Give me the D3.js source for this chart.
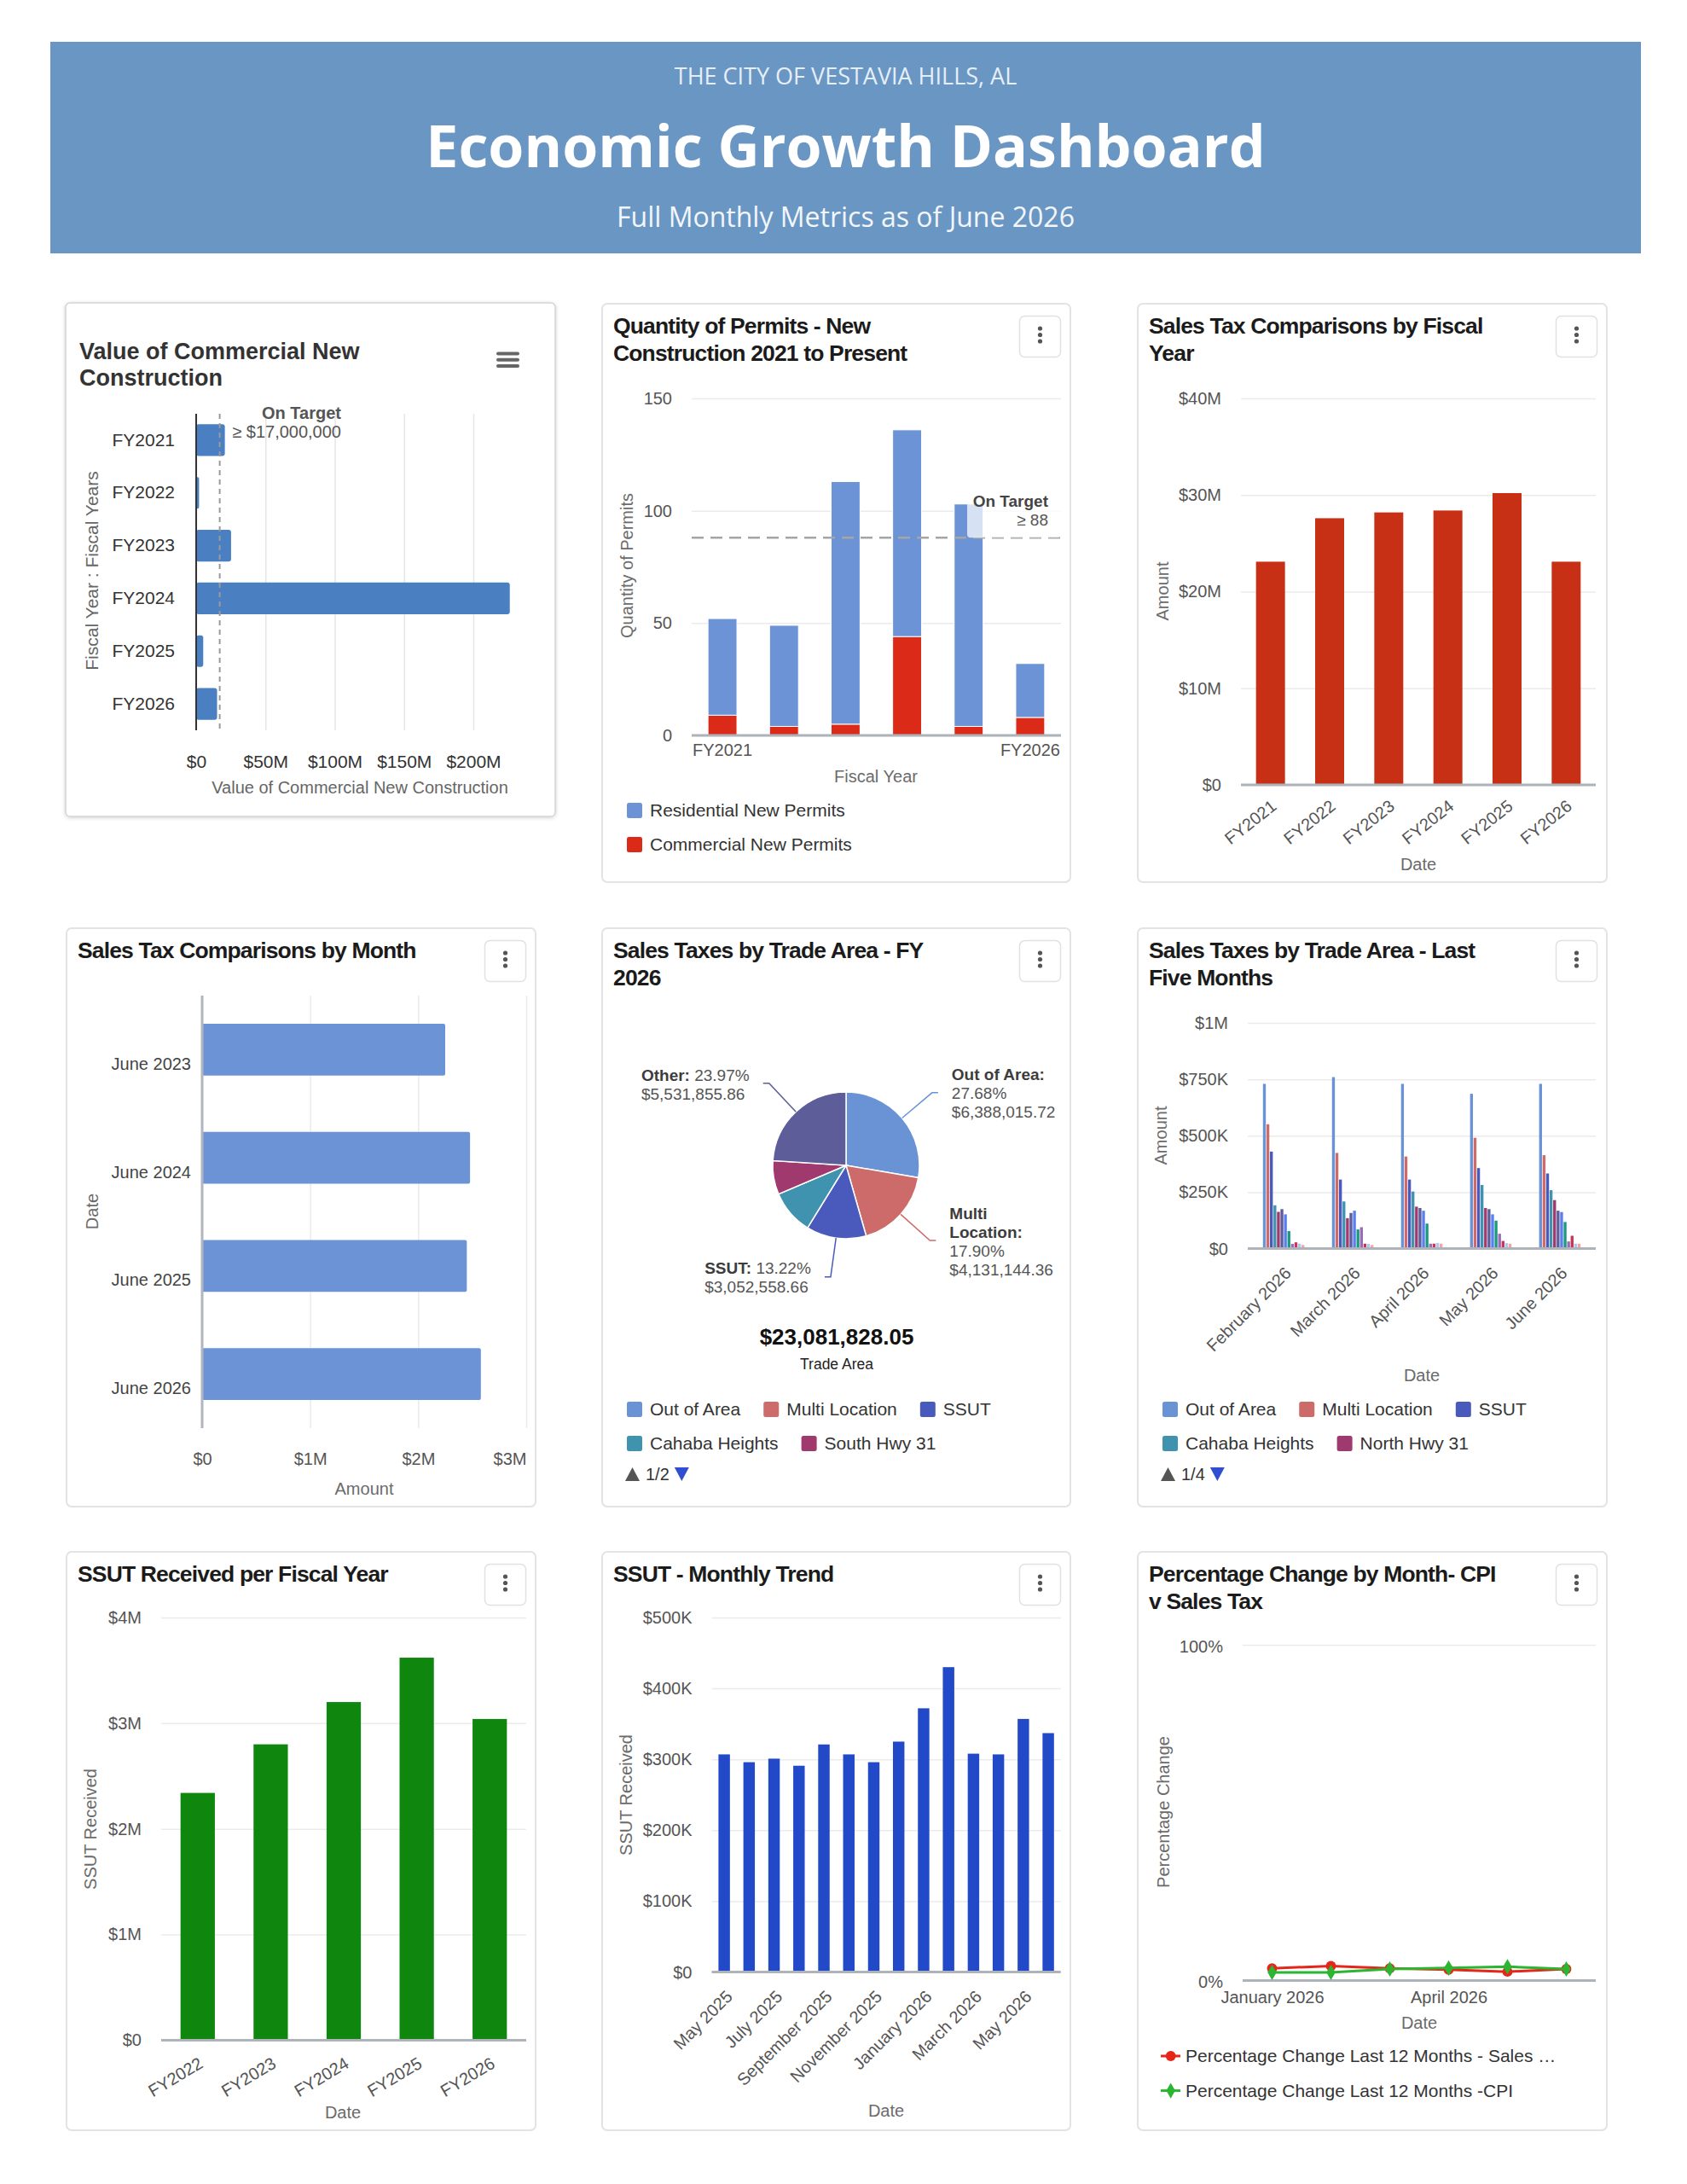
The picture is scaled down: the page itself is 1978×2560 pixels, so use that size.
<!DOCTYPE html>
<html>
<head>
<meta charset="utf-8">
<title>Economic Growth Dashboard</title>
<script src="https://d3js.org/d3.v7.min.js"></script>
<style>
  body { margin: 0; background: #fff; }
  svg { display: block; }
</style>
</head>
<body>
<script>
var FONT = '"Liberation Sans", Arial, Helvetica, sans-serif';

// ---- data ----
var commercialYears = ["FY2021", "FY2022", "FY2023", "FY2024", "FY2025", "FY2026"];
var commercialValues = [20.7e6, 2.1e6, 25.2e6, 226.3e6, 5.1e6, 15.1e6];
var commercialTarget = 17000000;

var permitYears = ["FY2021", "FY2022", "FY2023", "FY2024", "FY2025", "FY2026"];
var residentialPermits = [43, 45, 108, 92, 99, 24];
var commercialPermits = [9, 4, 5, 44, 4, 8];
var permitTarget = 88;

var salesTaxYears = ["FY2021", "FY2022", "FY2023", "FY2024", "FY2025", "FY2026"];
var salesTaxByYear = [23.1e6, 27.6e6, 28.2e6, 28.4e6, 30.2e6, 23.1e6];

var juneMonths = ["June 2023", "June 2024", "June 2025", "June 2026"];
var juneSalesTax = [2.25e6, 2.48e6, 2.45e6, 2.58e6];

var tradeAreas = ["Out of Area", "Multi Location", "SSUT", "Cahaba Heights", "South Hwy 31", "Other"];
var tradeAreaTax = [6388015.72, 4131144.36, 3052558.66, 2263000.00, 1715253.45, 5531855.86];
var tradeAreaColors = ["#6a93d6", "#cc6b69", "#4a5abc", "#3f93ae", "#a03a6e", "#5c5d99"];

var lastFiveMonths = ["February 2026", "March 2026", "April 2026", "May 2026", "June 2026"];
var fiveMonthLegend = ["Out of Area", "Multi Location", "SSUT", "Cahaba Heights", "North Hwy 31"];
var fiveMonthColors = ["#6a93d6", "#cc6b69", "#4a5abc", "#3f93ae", "#a03a6e", "#5c5d99",
                       "#5b7ff0", "#1d9a7e", "#9b6cb5", "#c9365a", "#a9c8f2", "#f5a3a3"];
// thousands of dollars, one row per month, one value per trade area
var fiveMonthTax = [
  [730, 551, 430, 192, 163, 175, 152, 78, 21, 28, 22, 16],
  [760, 424, 306, 209, 135, 158, 168, 85, 95, 22, 21, 16],
  [730, 408, 306, 253, 186, 180, 168, 111, 22, 22, 25, 22],
  [686, 491, 357, 282, 180, 175, 152, 124, 66, 34, 25, 22],
  [730, 414, 333, 259, 215, 168, 162, 118, 32, 57, 22, 22]
];

var ssutYears = ["FY2022", "FY2023", "FY2024", "FY2025", "FY2026"];
var ssutByYear = [2.34e6, 2.80e6, 3.20e6, 3.62e6, 3.04e6];

var ssutMonths = ["May 2025", "June 2025", "July 2025", "August 2025", "September 2025", "October 2025",
                  "November 2025", "December 2025", "January 2026", "February 2026", "March 2026",
                  "April 2026", "May 2026", "June 2026"];
var ssutMonthly = [307e3, 296e3, 301e3, 291e3, 321e3, 307e3, 296e3, 325e3, 372e3, 430e3, 308e3, 307e3, 357e3, 337e3];

var changeMonths = ["January 2026", "February 2026", "March 2026", "April 2026", "May 2026", "June 2026"];
var salesTaxChange = [3.6, 4.3, 3.6, 3.2, 2.6, 3.4];
var cpiChange = [2.4, 2.4, 3.4, 3.7, 4.1, 3.4];
var changeSeries = ["Percentage Change Last 12 Months - Sales Tax", "Percentage Change Last 12 Months -CPI"];

// ---- helpers ----
var svg = d3.select("body").append("svg")
  .attr("width", 1978).attr("height", 2560)
  .attr("font-family", FONT);

var defs = svg.append("defs");
defs.append("filter").attr("id", "shadow").attr("x", "-5%").attr("y", "-5%").attr("width", "110%").attr("height", "110%")
  .append("feDropShadow").attr("dx", 0).attr("dy", 1).attr("stdDeviation", 2).attr("flood-opacity", 0.18);

function money(v) {
  if (v === 0) return "$0";
  if (v >= 1e6) return "$" + (v / 1e6) + "M";
  return "$" + (v / 1e3) + "K";
}

function card(x, y, w, h, title) {
  var g = svg.append("g").attr("transform", "translate(" + x + "," + y + ")");
  g.append("rect").attr("x", 1).attr("y", 1).attr("width", w - 2).attr("height", h - 2).attr("rx", 6)
    .attr("fill", "#fff").attr("stroke", "#e3e3e3").attr("stroke-width", 2);
  title.forEach(function(t, i) {
    g.append("text").attr("x", 14).attr("y", 36 + i * 32)
      .attr("font-size", 26.5).attr("font-weight", "bold").attr("letter-spacing", -0.85)
      .attr("fill", "#1b1b1b").text(t);
  });
  var m = g.append("g").attr("transform", "translate(" + (w - 61) + ",15)");
  m.append("rect").attr("x", 0.5).attr("y", 0.5).attr("width", 48).attr("height", 48).attr("rx", 6)
    .attr("fill", "#fff").attr("stroke", "#dfe1e4").attr("stroke-width", 1.5);
  [15, 22.5, 30].forEach(function(cy) {
    m.append("circle").attr("cx", 24.5).attr("cy", cy).attr("r", 2.6).attr("fill", "#555");
  });
  return g;
}

function styleAxis(ax, size, color) {
  ax.attr("font-size", size).attr("font-family", FONT);
  ax.select(".domain").remove();
  ax.selectAll(".tick line").attr("stroke", "#ebebeb").attr("stroke-width", 1.5);
  ax.selectAll(".tick text").attr("fill", color);
  return ax;
}

function yGrid(g, y, x0, x1, ticks, fmt, pad) {
  var ax = g.append("g").attr("transform", "translate(" + x0 + ",0)")
    .call(d3.axisLeft(y).tickValues(ticks).tickFormat(fmt).tickSize(-(x1 - x0)).tickPadding(pad));
  return styleAxis(ax, 20, "#555");
}

function baseline(g, x0, x1, yv) {
  g.append("line").attr("x1", x0).attr("x2", x1).attr("y1", yv).attr("y2", yv)
    .attr("stroke", "#aeb3ba").attr("stroke-width", 3);
}

function bottomLabels(g, x, yv, angle, dx, dy, values) {
  var axis = d3.axisBottom(x).tickSize(0);
  if (values) axis.tickValues(values);
  var ax = g.append("g").attr("transform", "translate(0," + yv + ")").call(axis);
  styleAxis(ax, 20, "#555");
  if (angle) {
    ax.selectAll(".tick text")
      .attr("text-anchor", "end").attr("x", 0).attr("y", 0).attr("dy", "0.35em")
      .attr("transform", "translate(" + dx + "," + dy + ") rotate(" + angle + ")");
  }
  return ax;
}

function axisTitle(g, x, y, text, vertical) {
  var t = g.append("text").attr("text-anchor", "middle").attr("font-size", 20).attr("fill", "#6b6b6b").text(text);
  if (vertical) {
    t.attr("transform", "translate(" + x + "," + y + ") rotate(-90)").attr("dy", "0.35em");
  } else {
    t.attr("x", x).attr("y", y);
  }
  return t;
}

function swatchLegend(g, names, colors, x0, y0, maxX, rowH) {
  var x = x0, y = y0;
  names.forEach(function(name, i) {
    var t = g.append("text").attr("font-size", 21).attr("fill", "#333").attr("dy", "0.35em").text(name);
    var w = t.node().getComputedTextLength();
    if (x + 27 + w > maxX && x > x0) { x = x0; y += rowH; }
    g.append("rect").attr("x", x).attr("y", y - 9).attr("width", 18).attr("height", 18).attr("rx", 2.5)
      .attr("fill", colors[i]);
    t.attr("x", x + 27).attr("y", y);
    x += 27 + w + 27;
  });
  return y;
}

function pager(g, x, y, text) {
  g.append("path").attr("d", "M" + x + "," + (y + 8) + "l8.5,-16l8.5,16z").attr("fill", "#555");
  var t = g.append("text").attr("x", x + 24).attr("y", y).attr("dy", "0.35em")
    .attr("font-size", 20).attr("fill", "#333").text(text);
  var w = t.node().getComputedTextLength();
  g.append("path").attr("d", "M" + (x + 30 + w) + "," + (y - 8) + "l17,0l-8.5,16z").attr("fill", "#2f4fd0");
}

// ---- header ----
svg.append("rect").attr("x", 59).attr("y", 49).attr("width", 1865).attr("height", 248).attr("fill", "#6a96c3");
svg.append("text").attr("x", 991.5).attr("y", 99).attr("text-anchor", "middle")
  .attr("font-family", "'Open Sans', Lato, sans-serif").attr("font-size", 27).attr("fill", "#e6eef7")
  .text("THE CITY OF VESTAVIA HILLS, AL");
svg.append("text").attr("x", 991.5).attr("y", 196).attr("text-anchor", "middle")
  .attr("font-family", "'Open Sans', Lato, sans-serif").attr("font-weight", 700).attr("font-size", 68).attr("fill", "#fff")
  .text("Economic Growth Dashboard");
svg.append("text").attr("x", 991.5).attr("y", 266).attr("text-anchor", "middle")
  .attr("font-family", "'Open Sans', Lato, sans-serif").attr("font-size", 32).attr("fill", "#f2f6fb")
  .text("Full Monthly Metrics as of June 2026");

// ---- 1. Value of Commercial New Construction ----
(function() {
  var g = svg.append("g").attr("transform", "translate(77,355)");
  g.append("rect").attr("width", 574).attr("height", 602).attr("rx", 5)
    .attr("fill", "#fff").attr("stroke", "#d4d4d4").attr("stroke-width", 1.5).attr("filter", "url(#shadow)");
  ["Value of Commercial New", "Construction"].forEach(function(t, i) {
    g.append("text").attr("x", 16).attr("y", 66 + i * 31)
      .attr("font-size", 27).attr("font-weight", "bold").attr("fill", "#333").text(t);
  });
  [59.5, 66.8, 74.1].forEach(function(yy) {
    g.append("rect").attr("x", 505).attr("y", yy - 2).attr("width", 27).attr("height", 4).attr("rx", 2).attr("fill", "#666");
  });

  var x = d3.scaleLinear().domain([0, 200e6]).range([153, 478]);
  var y = d3.scaleBand().domain(commercialYears).range([130, 501]).paddingInner(0.4).paddingOuter(0.2);

  var xa = g.append("g").attr("transform", "translate(0,501)")
    .call(d3.axisBottom(x).tickValues([0, 50e6, 100e6, 150e6, 200e6]).tickFormat(money).tickSize(-371).tickPadding(29));
  styleAxis(xa, 21, "#333");
  xa.selectAll(".tick line").attr("stroke", "#e6e6e6");

  g.selectAll("rect.bar").data(commercialValues).join("rect").attr("class", "bar")
    .attr("x", x(0)).attr("y", function(d, i) { return y(commercialYears[i]); })
    .attr("width", function(d) { return x(d) - x(0); }).attr("height", y.bandwidth())
    .attr("rx", 3).attr("fill", "#4a80c2");

  g.append("line").attr("x1", x(0)).attr("x2", x(0)).attr("y1", 130).attr("y2", 501)
    .attr("stroke", "#333").attr("stroke-width", 2);
  g.append("line").attr("x1", x(commercialTarget)).attr("x2", x(commercialTarget)).attr("y1", 130).attr("y2", 501)
    .attr("stroke", "#9a9a9a").attr("stroke-width", 2).attr("stroke-dasharray", "6,5");
  g.append("text").attr("x", 323).attr("y", 136).attr("text-anchor", "end")
    .attr("font-size", 20).attr("font-weight", "bold").attr("fill", "#555").text("On Target");
  g.append("text").attr("x", 323).attr("y", 158).attr("text-anchor", "end")
    .attr("font-size", 20).attr("fill", "#555").text("\u2265 " + d3.format("$,")(commercialTarget));

  var ya = g.append("g").attr("transform", "translate(" + x(0) + ",0)")
    .call(d3.axisLeft(y).tickSize(0).tickPadding(25));
  styleAxis(ya, 21, "#333");

  var t1 = axisTitle(g, 345, 575, "Value of Commercial New Construction", false);
  t1.attr("fill", "#666");
  axisTitle(g, 31, 314, "Fiscal Year : Fiscal Years", true).attr("font-size", 21).attr("fill", "#666");
})();

// ---- 2. Quantity of Permits ----
(function() {
  var g = card(705, 355, 551, 680, ["Quantity of Permits - New", "Construction 2021 to Present"]);
  var x = d3.scaleBand().domain(permitYears).range([106, 539]).paddingInner(0.53).paddingOuter(0.265);
  var y = d3.scaleLinear().domain([0, 150]).range([507, 112]);
  yGrid(g, y, 106, 539, [0, 50, 100, 150], function(d) { return d; }, 23);

  var rows = permitYears.map(function(k, i) { return { k: k, com: commercialPermits[i], res: residentialPermits[i] }; });
  var layers = d3.stack().keys(["com", "res"])(rows);
  var cols = { com: "#dc2a19", res: "#6b93d6" };
  g.selectAll("g.layer").data(layers).join("g").attr("class", "layer").attr("fill", function(d) { return cols[d.key]; })
    .selectAll("rect").data(function(d) { return d; }).join("rect")
      .attr("x", function(d) { return x(d.data.k); }).attr("width", x.bandwidth())
      .attr("y", function(d) { return y(d[1]); }).attr("height", function(d) { return y(d[0]) - y(d[1]); })
      .attr("stroke", "#fff").attr("stroke-width", 1);
  baseline(g, 106, 539, y(0));

  g.append("line").attr("x1", 106).attr("x2", 539).attr("y1", y(permitTarget)).attr("y2", y(permitTarget))
    .attr("stroke", "#a5a5a5").attr("stroke-width", 2.5).attr("stroke-dasharray", "14,8");
  g.append("rect").attr("x", 429).attr("y", 222).attr("width", 110).attr("height", y(permitTarget) - 222).attr("rx", 4)
    .attr("fill", "#fff").attr("opacity", 0.72);
  g.append("text").attr("x", 524).attr("y", 239).attr("text-anchor", "end")
    .attr("font-size", 19).attr("font-weight", "bold").attr("fill", "#444").text("On Target");
  g.append("text").attr("x", 524).attr("y", 261).attr("text-anchor", "end")
    .attr("font-size", 19).attr("fill", "#555").text("\u2265 " + permitTarget);

  bottomLabels(g, x, y(0), 0, 0, 0, [permitYears[0], permitYears[permitYears.length - 1]])
    .selectAll(".tick text").attr("dy", "0.71em").attr("y", 10);
  axisTitle(g, 322, 562, "Fiscal Year", false);
  axisTitle(g, 30, 308, "Quantity of Permits", true);

  [["Residential New Permits", cols.res], ["Commercial New Permits", cols.com]].forEach(function(d, i) {
    swatchLegend(g, [d[0]], [d[1]], 30, 595 + i * 40, 540, 40);
  });
})();

// ---- 3. Sales Tax Comparisons by Fiscal Year ----
(function() {
  var g = card(1333, 355, 552, 680, ["Sales Tax Comparisons by Fiscal", "Year"]);
  var x = d3.scaleBand().domain(salesTaxYears).range([122, 538]).paddingInner(0.51).paddingOuter(0.255);
  var y = d3.scaleLinear().domain([0, 40e6]).range([565, 112]);
  yGrid(g, y, 122, 538, [0, 10e6, 20e6, 30e6, 40e6], money, 23);
  g.selectAll("rect.bar").data(salesTaxByYear).join("rect").attr("class", "bar")
    .attr("x", function(d, i) { return x(salesTaxYears[i]); }).attr("width", x.bandwidth())
    .attr("y", function(d) { return y(d); }).attr("height", function(d) { return y(0) - y(d); })
    .attr("fill", "#c83015");
  baseline(g, 122, 538, y(0));
  bottomLabels(g, x, y(0), -38, 4, 22);
  axisTitle(g, 330, 665, "Date", false);
  axisTitle(g, 30, 338, "Amount", true);
})();

// ---- 4. Sales Tax Comparisons by Month ----
(function() {
  var g = card(77, 1087, 552, 680, ["Sales Tax Comparisons by Month"]);
  var x = d3.scaleLinear().domain([0, 3e6]).range([160, 540]);
  var y = d3.scaleBand().domain(juneMonths).range([80, 587]).paddingInner(0.52).paddingOuter(0.26);
  var xa = g.append("g").attr("transform", "translate(0,587)")
    .call(d3.axisBottom(x).tickValues([0, 1e6, 2e6, 3e6]).tickFormat(money).tickSize(-507).tickPadding(29));
  styleAxis(xa, 20, "#555");
  xa.selectAll(".tick:last-of-type text").attr("text-anchor", "end");
  g.selectAll("rect.bar").data(juneSalesTax).join("rect").attr("class", "bar")
    .attr("x", x(0)).attr("y", function(d, i) { return y(juneMonths[i]); })
    .attr("width", function(d) { return x(d) - x(0); }).attr("height", y.bandwidth())
    .attr("rx", 2).attr("fill", "#6b93d6");
  g.append("line").attr("x1", x(0)).attr("x2", x(0)).attr("y1", 80).attr("y2", 587)
    .attr("stroke", "#b1b5bd").attr("stroke-width", 3);
  var ya = g.append("g").attr("transform", "translate(" + x(0) + ",0)")
    .call(d3.axisLeft(y).tickSize(0).tickPadding(13));
  styleAxis(ya, 20, "#444");
  ya.selectAll(".tick text").attr("y", 17);
  axisTitle(g, 350, 665, "Amount", false);
  axisTitle(g, 31, 333, "Date", true);
})();

// ---- 5. Sales Taxes by Trade Area - FY 2026 ----
(function() {
  var g = card(705, 1087, 551, 680, ["Sales Taxes by Trade Area - FY", "2026"]);
  var cx = 287, cy = 279, r = 86;
  var total = d3.sum(tradeAreaTax);
  var arcs = d3.pie().sort(null).value(function(d) { return d; })(tradeAreaTax);
  var arc = d3.arc().innerRadius(0).outerRadius(r);
  var pg = g.append("g").attr("transform", "translate(" + cx + "," + cy + ")");
  pg.selectAll("path").data(arcs).join("path").attr("d", arc)
    .attr("fill", function(d, i) { return tradeAreaColors[i]; })
    .attr("stroke", "#fff").attr("stroke-width", 1.5);

  var fmtMoney = d3.format("$,.2f");
  function pct(v) { return (v / total * 100).toFixed(2) + "%"; }
  // which slices get a callout and how their text wraps
  var callouts = [
    { i: 0, lines: function(n, p, m) { return [[n + ":", ""], ["", p], ["", m]]; }, first: -14.5 },
    { i: 1, lines: function(n, p, m) { var w = n.split(" "); return [[w[0], ""], [w[1] + ":", ""], ["", p], ["", m]]; }, first: -25.5 },
    { i: 2, lines: function(n, p, m) { return [[n + ":", " " + p], ["", m]]; }, first: -4 },
    { i: 5, lines: function(n, p, m) { return [[n + ":", " " + p], ["", m]]; }, first: -2.5 }
  ];
  callouts.forEach(function(c) {
    var a = arcs[c.i];
    var mid = (a.startAngle + a.endAngle) / 2;
    var ux = Math.sin(mid), uy = -Math.cos(mid);
    var ex = cx + ux * r, ey = cy + uy * r;
    var bx = cx + ux * (r + 46), by = cy + uy * (r + 46);
    var side = ux >= 0 ? 1 : -1;
    var endX = bx + side * 7;
    g.append("path").attr("d", "M" + ex + "," + ey + "L" + bx + "," + by + "L" + endX + "," + by)
      .attr("fill", "none").attr("stroke", tradeAreaColors[c.i]).attr("stroke-width", 1.5);
    var lines = c.lines(tradeAreas[c.i], pct(tradeAreaTax[c.i]), fmtMoney(tradeAreaTax[c.i]));
    var tg = g.append("g");
    lines.forEach(function(l, k) {
      var t = tg.append("text").attr("y", by + c.first + k * 22).attr("font-size", 19);
      if (l[0]) t.append("tspan").attr("font-weight", "bold").attr("fill", "#3c3c3c").text(l[0]);
      if (l[1]) t.append("tspan").attr("fill", "#555").text(l[1]);
    });
    var bw = tg.node().getBBox().width;
    tg.attr("transform", "translate(" + (side > 0 ? endX + 16 : endX - 16 - bw) + ",0)");
  });

  g.append("text").attr("x", 276).attr("y", 489).attr("text-anchor", "middle")
    .attr("font-size", 26).attr("font-weight", "bold").attr("fill", "#111").text(fmtMoney(total));
  g.append("text").attr("x", 276).attr("y", 518).attr("text-anchor", "middle")
    .attr("font-size", 17.5).attr("fill", "#222").text("Trade Area");

  swatchLegend(g, tradeAreas.slice(0, 5), tradeAreaColors, 30, 565, 532, 40);
  pager(g, 28, 641, "1/2");
})();

// ---- 6. Sales Taxes by Trade Area - Last Five Months ----
(function() {
  var g = card(1333, 1087, 552, 680, ["Sales Taxes by Trade Area - Last", "Five Months"]);
  var x0 = d3.scaleBand().domain(lastFiveMonths).range([130, 538]).paddingInner(0.4).paddingOuter(0.22);
  var x1 = d3.scaleBand().domain(d3.range(fiveMonthColors.length)).range([0, x0.bandwidth()]).paddingInner(0.18);
  var y = d3.scaleLinear().domain([0, 1000]).range([376.6, 112]);
  yGrid(g, y, 130, 538, [0, 250, 500, 750, 1000], function(d) { return money(d * 1000); }, 23);
  g.selectAll("g.month").data(fiveMonthTax).join("g").attr("class", "month")
    .attr("transform", function(d, i) { return "translate(" + x0(lastFiveMonths[i]) + ",0)"; })
    .selectAll("rect").data(function(d) { return d; }).join("rect")
      .attr("x", function(d, j) { return x1(j); }).attr("width", x1.bandwidth())
      .attr("y", function(d) { return y(d); }).attr("height", function(d) { return y(0) - y(d); })
      .attr("fill", function(d, j) { return fiveMonthColors[j]; });
  baseline(g, 130, 538, y(0));
  bottomLabels(g, x0, y(0), -45, 5, 25);
  axisTitle(g, 334, 532, "Date", false);
  axisTitle(g, 28, 244, "Amount", true);
  swatchLegend(g, fiveMonthLegend, fiveMonthColors, 30, 565, 532, 40);
  pager(g, 28, 641, "1/4");
})();

// ---- 7. SSUT Received per Fiscal Year ----
(function() {
  var g = card(77, 1818, 552, 680, ["SSUT Received per Fiscal Year"]);
  var x = d3.scaleBand().domain(ssutYears).range([112, 540]).paddingInner(0.53).paddingOuter(0.265);
  var y = d3.scaleLinear().domain([0, 4e6]).range([573.4, 78]);
  yGrid(g, y, 112, 540, [0, 1e6, 2e6, 3e6, 4e6], money, 23);
  g.selectAll("rect.bar").data(ssutByYear).join("rect").attr("class", "bar")
    .attr("x", function(d, i) { return x(ssutYears[i]); }).attr("width", x.bandwidth())
    .attr("y", function(d) { return y(d); }).attr("height", function(d) { return y(0) - y(d); })
    .attr("fill", "#0f860e");
  baseline(g, 112, 540, y(0));
  bottomLabels(g, x, y(0), -31, 4, 25);
  axisTitle(g, 325, 665, "Date", false);
  axisTitle(g, 29, 326, "SSUT Received", true);
})();

// ---- 8. SSUT - Monthly Trend ----
(function() {
  var g = card(705, 1818, 551, 680, ["SSUT - Monthly Trend"]);
  var x = d3.scaleBand().domain(ssutMonths).range([129.5, 538.7]).paddingInner(0.54).paddingOuter(0.27);
  var y = d3.scaleLinear().domain([0, 500e3]).range([493.6, 78]);
  yGrid(g, y, 129.5, 538.7, [0, 100e3, 200e3, 300e3, 400e3, 500e3], money, 23);
  g.selectAll("rect.bar").data(ssutMonthly).join("rect").attr("class", "bar")
    .attr("x", function(d, i) { return x(ssutMonths[i]); }).attr("width", x.bandwidth())
    .attr("y", function(d) { return y(d); }).attr("height", function(d) { return y(0) - y(d); })
    .attr("fill", "#2249c8");
  baseline(g, 129.5, 538.7, y(0));
  bottomLabels(g, x, y(0), -45, 6, 25, ssutMonths.filter(function(d, i) { return i % 2 === 0; }));
  axisTitle(g, 334, 663, "Date", false);
  axisTitle(g, 29, 286, "SSUT Received", true);
})();

// ---- 9. Percentage Change by Month- CPI v Sales Tax ----
(function() {
  var g = card(1333, 1818, 552, 680, ["Percentage Change by Month- CPI", "v Sales Tax"]);
  var x = d3.scalePoint().domain(changeMonths).range([124, 538]).padding(0.5);
  var y = d3.scaleLinear().domain([0, 100]).range([503.4, 110]);
  var ya = yGrid(g, y, 124, 538, [0, 100], function(d) { return d + "%"; }, 23);
  ya.selectAll(".tick text").attr("dy", "0.42em");
  baseline(g, 124, 538, y(0));

  var colors = ["#e5261a", "#2bb530"];
  [salesTaxChange, cpiChange].forEach(function(vals, s) {
    var line = d3.line().x(function(d, i) { return x(changeMonths[i]); }).y(function(d) { return y(d); });
    g.append("path").datum(vals).attr("d", line).attr("fill", "none")
      .attr("stroke", colors[s]).attr("stroke-width", 3);
    var sym = d3.symbol().type(s === 0 ? d3.symbolCircle : d3.symbolDiamond).size(s === 0 ? 110 : 95);
    g.selectAll("path.m" + s).data(vals).join("path").attr("class", "m" + s)
      .attr("transform", function(d, i) { return "translate(" + x(changeMonths[i]) + "," + y(d) + ")"; })
      .attr("d", sym).attr("fill", colors[s]);
  });

  var xa = bottomLabels(g, x, y(0), 0, 0, 0, [changeMonths[0], changeMonths[3]]);
  xa.selectAll(".tick text").attr("y", 12).attr("fill", "#555");
  axisTitle(g, 331, 560, "Date", false);
  axisTitle(g, 31, 306, "Percentage Change", true);

  changeSeries.forEach(function(name, s) {
    var ly = 592 + s * 40.6;
    g.append("line").attr("x1", 28).attr("x2", 51).attr("y1", ly).attr("y2", ly)
      .attr("stroke", colors[s]).attr("stroke-width", 3);
    g.append("path").attr("transform", "translate(39.7," + ly + ")")
      .attr("d", d3.symbol().type(s === 0 ? d3.symbolCircle : d3.symbolDiamond).size(s === 0 ? 110 : 95))
      .attr("fill", colors[s]);
    var t = g.append("text").attr("x", 57).attr("y", ly).attr("dy", "0.35em")
      .attr("font-size", 21).attr("fill", "#333").text(name);
    var n = name.length;
    while (t.node().getComputedTextLength() > 445 && n > 0) {
      n--;
      t.text(name.slice(0, n) + " \u2026");
    }
  });
})();
</script>
</body>
</html>
